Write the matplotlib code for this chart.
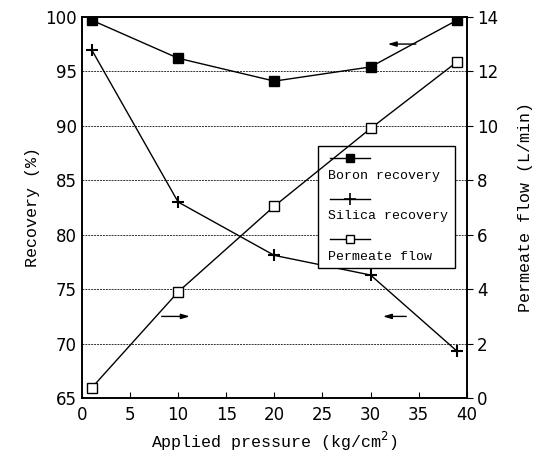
import matplotlib
matplotlib.use("Agg")
import matplotlib.pyplot as plt
from matplotlib.lines import Line2D
from matplotlib.patches import Rectangle

pressure = [1, 10, 20, 30, 39]
boron_recovery = [99.7, 96.2, 94.1, 95.4, 99.7]
silica_recovery = [97.0, 83.0, 78.1, 76.3, 69.3]
permeate_flow = [0.37, 3.9, 7.05, 9.9, 12.35]

x_ticks = [0, 5, 10, 15, 20, 25, 30, 35, 40]
left_ticks = [65, 70, 75, 80, 85, 90, 95, 100]
right_ticks = [0, 2, 4, 6, 8, 10, 12, 14]

mono = "Liberation Mono"
fig = plt.figure(figsize=(5.39, 4.55), dpi=100)
ax = fig.add_axes([0.152, 0.125, 0.714, 0.838])
ax2 = ax.twinx()

ax.set_xlim(0, 40)
ax.set_ylim(65, 100)
ax2.set_ylim(0, 14)

for y in left_ticks[1:-1]:
    ax.axhline(y, color="black", lw=0.7, ls=(0, (2, 1)), alpha=0.8, zorder=1)

ax.plot(pressure, boron_recovery, color="black", lw=1, marker="s", ms=7,
        mfc="black", mec="black", zorder=3)
ax.plot(pressure, silica_recovery, color="black", lw=1, marker="+", ms=9,
        mew=1.5, zorder=3)
ax2.plot(pressure, permeate_flow, color="black", lw=1, marker="s", ms=6.5,
         mfc="white", mec="black", zorder=3)

ax.set_xticks(x_ticks)
ax.set_yticks(left_ticks)
ax2.set_yticks(right_ticks)
ax.tick_params(axis="x", direction="in", length=4, labelsize=12, pad=6)
ax.tick_params(axis="y", direction="out", length=0, labelsize=12)
ax2.tick_params(axis="y", direction="out", length=4, labelsize=12)
for a in (ax, ax2):
    for s in a.spines.values():
        s.set_linewidth(1.2)

ax.set_xlabel("Applied pressure (kg/cm$^2$)", family=mono, fontsize=12)
ax.set_ylabel("Recovery (%)", family=mono, fontsize=12)
ax2.set_ylabel("Permeate flow (L/min)", family=mono, fontsize=12, labelpad=14)

# direction arrows
arrow_kw = dict(arrowstyle="-|>,head_length=0.5,head_width=0.15", color="black", lw=1)
ax.annotate("", xy=(31.5, 97.5), xytext=(35.0, 97.5), arrowprops=arrow_kw)
ax.annotate("", xy=(31.0, 72.5), xytext=(34.0, 72.5), arrowprops=arrow_kw)
ax.annotate("", xy=(11.5, 72.5), xytext=(8.0, 72.5), arrowprops=arrow_kw)

# legend box
lx0, lx1 = 0.614, 0.97
ly0, ly1 = 0.34, 0.66
ax.add_patch(Rectangle((lx0, ly0), lx1 - lx0, ly1 - ly0, transform=ax.transAxes,
                       facecolor="white", edgecolor="black", lw=1, zorder=5))
entries = [("Boron recovery", dict(marker="s", ms=6, mfc="black", mec="black")),
           ("Silica recovery", dict(marker="+", ms=8, mew=1.2)),
           ("Permeate flow", dict(marker="s", ms=6, mfc="white", mec="black"))]
row_h = (ly1 - ly0) / 3
for i, (label, mk) in enumerate(entries):
    top = ly1 - i * row_h
    yline = top - row_h * 0.28
    ytext = top - row_h * 0.72
    xa, xb = lx0 + 0.03, lx0 + 0.135
    ax.add_line(Line2D([xa, (xa + xb) / 2, xb], [yline, yline, yline], transform=ax.transAxes,
                       color="black", lw=1, zorder=6, markevery=[1], **mk))
    ax.text(lx0 + 0.025, ytext, label, transform=ax.transAxes, family=mono,
            fontsize=9.5, va="center", ha="left", zorder=6)

fig.savefig("out.png", dpi=100)
